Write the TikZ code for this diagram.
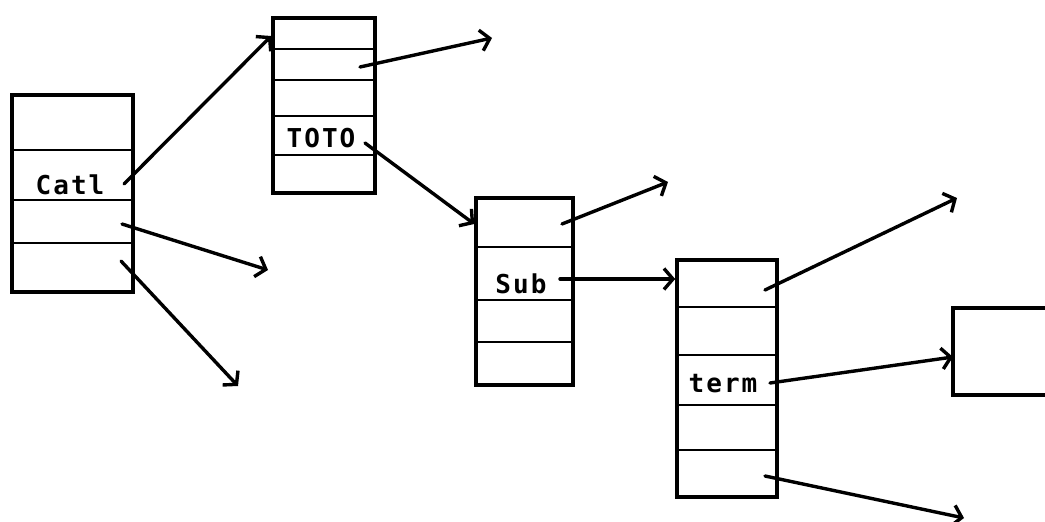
\documentclass[tikz,border=0pt]{standalone}
\usepackage{fontspec}
\newfontfamily\termfont[LetterSpace=8]{DejaVu Sans Mono Bold}
\usetikzlibrary{arrows.meta}
\begin{document}
\begin{tikzpicture}[x=1pt,y=-1pt,
  outerbox/.style={draw, line width=3.6pt, rectangle, inner sep=0pt},
  divider/.style={line width=2.8pt},
  ptr/.style={line width=3.4pt, line cap=round, -{Straight Barb[length=9pt,width=21pt,line width=3.4pt]}},
  lbl/.style={font=\termfont\fontsize{26}{26}\selectfont, anchor=base, inner sep=0pt}]
\useasboundingbox (0,0) rectangle (1045,522);
% box 1
\node[outerbox, minimum width=121pt, minimum height=197pt] (b1) at (72.5,193.5) {};
\foreach \y in {150,200,243} \draw[divider] (b1.west |- 0,\y) -- (b1.east |- 0,\y);
\node[lbl] (catl) at (70,194) {Catl};
% box 2
\node[outerbox, minimum width=102pt, minimum height=175pt] (b2) at (324,105.5) {};
\foreach \y in {49,80,116,155} \draw[divider] (b2.west |- 0,\y) -- (b2.east |- 0,\y);
\node[lbl] (toto) at (321,147) {TOTO};
% box 3
\node[outerbox, minimum width=97pt, minimum height=187pt] (b3) at (524.5,291.5) {};
\foreach \y in {247,300,342} \draw[divider] (b3.west |- 0,\y) -- (b3.east |- 0,\y);
\node[lbl] (sub) at (521,293) {Sub};
% box 4
\node[outerbox, minimum width=100pt, minimum height=237pt] (b4) at (727,378.5) {};
\foreach \y in {307,355,405,450} \draw[divider] (b4.west |- 0,\y) -- (b4.east |- 0,\y);
\node[lbl] (term) at (723,392) {term};
% box 5 (cut by the right edge)
\draw[line width=3.6pt] (1050,308) -- (953,308) coordinate (b5tl) -- (953,395) -- (1050,395);
\coordinate (b5in) at (953,357);
% pointer starts
\coordinate (p1) at (124,184);
\coordinate (p2) at (122,224);
\coordinate (p3) at (121,261);
\coordinate (p4) at (360,67);
\coordinate (p5) at (365,143);
\coordinate (p6) at (562,224);
\coordinate (p7) at (560,279);
\coordinate (p8) at (765,290);
\coordinate (p9) at (770,383);
\coordinate (p10) at (765,476);
% targets
\coordinate (t1) at (b2.west |- 0,36);
\coordinate (t2) at (268,270);
\coordinate (t3) at (238,386);
\coordinate (t4) at (492,38);
\coordinate (t5) at (b3.west |- 0,224);
\coordinate (t6) at (668,182);
\coordinate (t7) at (b4.west |- 0,279);
\coordinate (t8) at (957,198);
\coordinate (t10) at (964,518);
% connectors
\draw[ptr] (p1) -- (t1);
\draw[ptr] (p2) -- (t2);
\draw[ptr] (p3) -- (t3);
\draw[ptr] (p4) -- (t4);
\draw[ptr] (p5) -- (t5);
\draw[ptr] (p6) -- (t6);
\draw[ptr] (p7) -- (t7);
\draw[ptr] (p8) -- (t8);
\draw[ptr] (p9) -- (b5in);
\draw[ptr] (p10) -- (t10);
\end{tikzpicture}
\end{document}
